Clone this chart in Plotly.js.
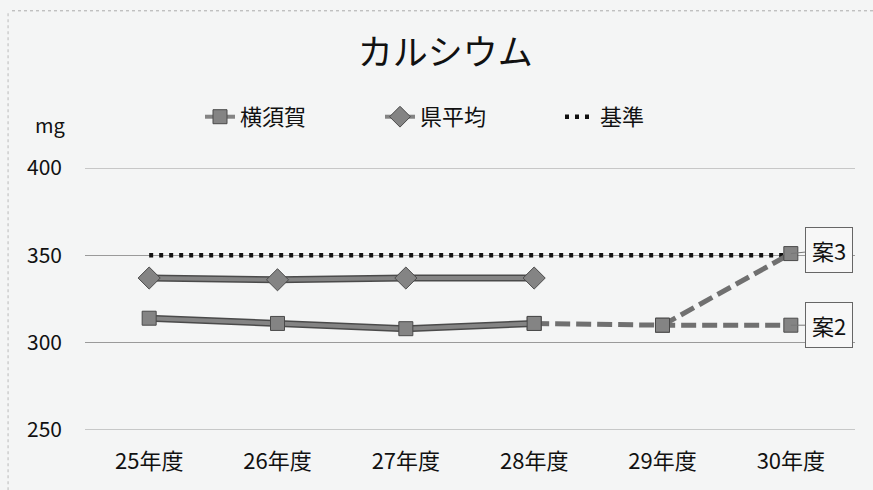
<!DOCTYPE html>
<html><head><meta charset="utf-8">
<script src="https://cdn.plot.ly/plotly-3.0.1.min.js"></script>
<style>html,body{margin:0;padding:0;background:#f4f5f5;}</style>
</head><body><div id="chart" style="width:873px;height:490px;"></div>
<script>
const categories = ['25年度','26年度','27年度','28年度','29年度','30年度'];
const yokosuka = [314, 311, 308, 311, null, null];
const kenAvg = [337, 336, 337, 337, null, null];
const kijun = [350, 350, 350, 350, 350, 350];
const plan2Cats = ['28年度','29年度','30年度'];
const plan2 = [311, 310, 310];
const plan3Cats = ['29年度','30年度'];
const plan3 = [310, 351];
const yTicks = [250, 300, 350, 400];

const jp = '"Noto Sans CJK JP", "Noto Sans", sans-serif';
const gray = '#848484';
const edge = '#4a4a4a';

const traces = [
  {x: categories, y: kijun, name: '基準', mode: 'lines', legendrank: 3,
   line: {color: '#111', width: 4.5, dash: '4px,6px'}},
  {x: plan2Cats, y: plan2, mode: 'lines+markers', showlegend: false,
   line: {color: '#707070', width: 5, dash: '15px,6px'},
   marker: {symbol: 'square', size: 14, color: gray, line: {color: edge, width: 1}}},
  {x: plan3Cats, y: plan3, mode: 'lines+markers', showlegend: false,
   line: {color: '#707070', width: 5, dash: '15px,6px'},
   marker: {symbol: 'square', size: 14, color: gray, line: {color: edge, width: 1}}},
  {x: categories, y: yokosuka, mode: 'lines', showlegend: false,
   line: {color: edge, width: 7}},
  {x: categories, y: kenAvg, mode: 'lines', showlegend: false,
   line: {color: edge, width: 7}},
  {x: categories, y: yokosuka, name: '横須賀', mode: 'lines+markers', legendrank: 1,
   line: {color: gray, width: 4},
   marker: {symbol: 'square', size: 14, color: gray, line: {color: edge, width: 1}}},
  {x: categories, y: kenAvg, name: '県平均', mode: 'lines+markers', legendrank: 2,
   line: {color: gray, width: 4},
   marker: {symbol: 'diamond', size: 17, color: gray, line: {color: edge, width: 1}}}
];

const layout = {
  width: 873, height: 490,
  paper_bgcolor: '#f4f5f5', plot_bgcolor: '#f4f5f5',
  margin: {l: 85, r: 18, t: 168, b: 60},
  font: {family: jp, color: '#222'},
  title: {text: 'カルシウム', x: 0.51, xanchor: 'center', y: 0.892, yanchor: 'middle',
          font: {size: 35, family: jp, color: '#111'}},
  showlegend: true,
  legend: {orientation: 'h', x: 0.5, xanchor: 'center', y: 1.195, yanchor: 'middle',
           font: {size: 22, family: jp, color: '#111'}, bgcolor: 'rgba(0,0,0,0)',
           traceorder: 'normal', entrywidth: 135},
  xaxis: {type: 'category', categoryorder: 'array', categoryarray: categories,
          range: [-0.5, 5.5], showgrid: false, zeroline: false, showline: false,
          ticks: '', ticklabelstandoff: 16,
          tickfont: {size: 22, family: jp, color: '#111'}, fixedrange: true},
  yaxis: {range: [250, 400], tickvals: yTicks, showgrid: true, gridcolor: '#9a9a9a',
          gridwidth: 1, zeroline: false, showline: false, ticks: '',
          ticklabelstandoff: 22,
          tickfont: {size: 21, family: jp, color: '#111'}, fixedrange: true},
  shapes: [
    {type: 'line', xref: 'paper', yref: 'y', x0: 0, x1: 1, y0: 400, y1: 400,
     line: {color: '#9a9a9a', width: 1}, layer: 'below'},
    {type: 'line', xref: 'paper', yref: 'y', x0: 0, x1: 1, y0: 250, y1: 250,
     line: {color: '#9a9a9a', width: 1}, layer: 'below'},
    {type: 'line', xref: 'paper', yref: 'paper', x0: -0.0948, x1: 1.03, y0: 1.6, y1: 1.6,
     line: {color: '#aaa', width: 1, dash: 'dot'}},
    {type: 'line', xref: 'paper', yref: 'paper', x0: -0.0999, x1: -0.0999, y0: -0.23, y1: 1.6,
     line: {color: '#bbb', width: 1, dash: 'dot'}}
  ],
  annotations: [
    {text: 'mg', xref: 'paper', yref: 'paper', x: -0.045, y: 1.165, xanchor: 'center',
     yanchor: 'middle', showarrow: false,
     font: {size: 20, family: jp, color: '#111'}},
    {text: '案3', x: '30年度', y: 351, ax: 38, ay: -4, showarrow: true, arrowhead: 0,
     arrowcolor: '#777', arrowwidth: 1, bordercolor: '#666', borderwidth: 1, borderpad: 6,
     bgcolor: '#f7f7f7', font: {size: 22, family: jp, color: '#111'}},
    {text: '案2', x: '30年度', y: 310, ax: 38, ay: 0, showarrow: true, arrowhead: 0,
     arrowcolor: '#777', arrowwidth: 1, bordercolor: '#666', borderwidth: 1, borderpad: 6,
     bgcolor: '#f7f7f7', font: {size: 22, family: jp, color: '#111'}}
  ]
};

Plotly.newPlot('chart', traces, layout, {displayModeBar: false, staticPlot: true});
</script></body></html>
